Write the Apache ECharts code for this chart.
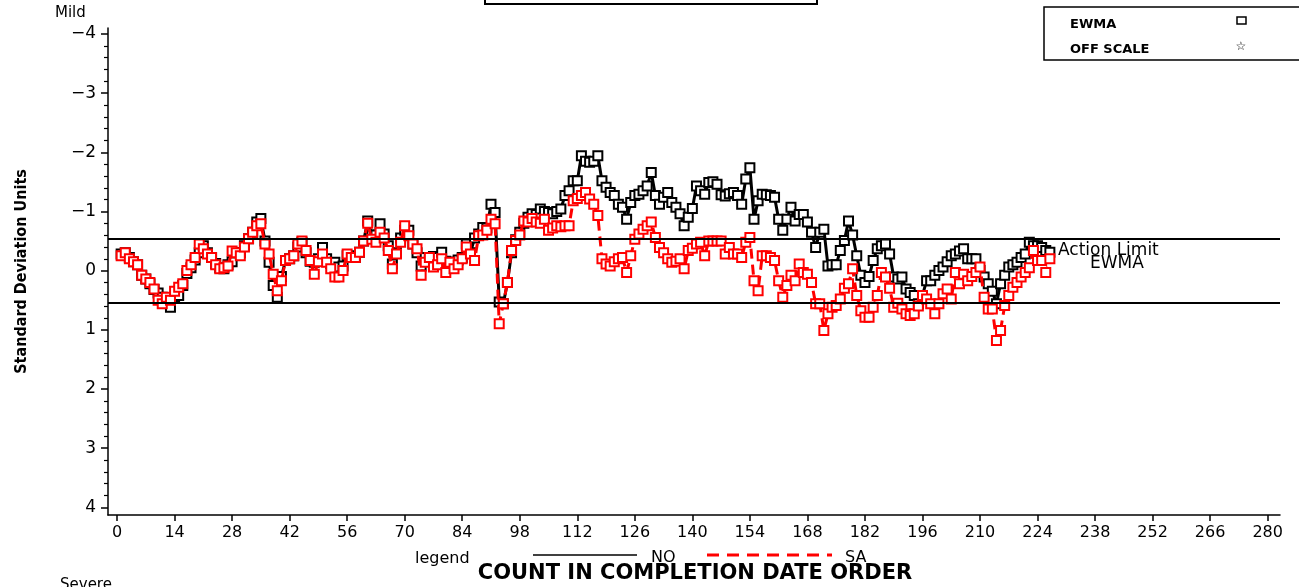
<!DOCTYPE html>
<html><head><meta charset="utf-8">
<script src="https://cdn.jsdelivr.net/npm/echarts@6/dist/echarts.min.js"></script>
<style>html,body{margin:0;padding:0;background:#fff}#c{width:1299px;height:587px}</style>
</head><body><div id="c"></div>
<script>
// EWMA values (standard deviation units), one per count in completion date order
const noValues = [
-0.28,-0.30,-0.22,-0.15,-0.10,0.08,0.14,0.22,0.32,0.38,
0.45,0.50,0.62,0.45,0.42,0.25,0.05,-0.05,-0.18,-0.30,
-0.42,-0.30,-0.22,-0.12,-0.05,-0.03,-0.10,-0.15,-0.30,-0.30,
-0.42,-0.54,-0.65,-0.82,-0.88,-0.50,-0.14,0.25,0.45,0.10,
-0.17,-0.20,-0.25,-0.40,-0.48,-0.30,-0.16,-0.14,-0.20,-0.39,
-0.20,-0.12,-0.14,-0.06,-0.08,-0.25,-0.25,-0.22,-0.31,-0.50,
-0.84,-0.60,-0.60,-0.79,-0.62,-0.42,-0.11,-0.30,-0.55,-0.68,
-0.68,-0.45,-0.30,-0.08,-0.22,-0.20,-0.24,-0.22,-0.31,-0.16,
-0.14,-0.14,-0.18,-0.22,-0.45,-0.30,-0.55,-0.62,-0.73,-0.72,
-1.12,-0.98,0.53,0.56,0.20,-0.30,-0.52,-0.65,-0.80,-0.90,
-0.96,-0.95,-1.04,-1.00,-0.98,-0.96,-1.00,-1.04,-1.27,-1.35,
-1.52,-1.52,-1.94,-1.85,-1.83,-1.85,-1.94,-1.52,-1.41,-1.32,
-1.27,-1.12,-1.07,-0.87,-1.15,-1.27,-1.29,-1.35,-1.43,-1.66,
-1.27,-1.12,-1.24,-1.32,-1.15,-1.07,-0.96,-0.76,-0.90,-1.05,
-1.43,-1.35,-1.29,-1.49,-1.50,-1.46,-1.28,-1.26,-1.30,-1.32,
-1.27,-1.12,-1.55,-1.74,-0.87,-1.18,-1.29,-1.28,-1.27,-1.24,
-0.87,-0.68,-0.87,-1.07,-0.84,-0.95,-0.95,-0.82,-0.65,-0.39,
-0.65,-0.70,-0.08,-0.10,-0.10,-0.34,-0.51,-0.84,-0.60,-0.25,
0.08,0.20,0.10,-0.17,-0.37,-0.42,-0.45,-0.28,0.11,0.14,
0.11,0.31,0.37,0.42,0.56,0.42,0.17,0.17,0.08,0.00,
-0.06,-0.15,-0.25,-0.28,-0.33,-0.37,-0.20,-0.20,-0.20,0.00,
0.11,0.22,0.35,0.56,0.22,0.08,-0.06,-0.10,-0.14,-0.22,
-0.28,-0.48,-0.42,-0.42,-0.39,-0.34,-0.31
];
const saValues = [
-0.25,-0.30,-0.20,-0.15,-0.10,0.08,0.14,0.20,0.31,0.50,
0.56,0.45,0.50,0.35,0.28,0.22,0.00,-0.10,-0.22,-0.45,
-0.37,-0.28,-0.22,-0.10,-0.03,-0.05,-0.08,-0.33,-0.30,-0.25,
-0.40,-0.54,-0.65,-0.76,-0.79,-0.45,-0.28,0.06,0.34,0.17,
-0.17,-0.20,-0.25,-0.45,-0.50,-0.34,-0.17,0.06,-0.15,-0.28,
-0.14,-0.03,0.11,0.11,0.00,-0.28,-0.22,-0.22,-0.31,-0.50,
-0.80,-0.53,-0.48,-0.65,-0.55,-0.34,-0.03,-0.28,-0.48,-0.76,
-0.59,-0.45,-0.37,0.08,-0.14,-0.22,-0.06,-0.10,-0.20,0.03,
-0.14,-0.03,-0.10,-0.20,-0.40,-0.28,-0.17,-0.59,-0.60,-0.68,
-0.87,-0.79,0.90,0.56,0.20,-0.34,-0.51,-0.60,-0.84,-0.82,
-0.88,-0.82,-0.80,-0.87,-0.68,-0.72,-0.76,-0.74,-0.76,-0.76,
-1.18,-1.22,-1.27,-1.32,-1.21,-1.12,-0.93,-0.20,-0.11,-0.08,
-0.15,-0.20,-0.22,0.03,-0.25,-0.53,-0.62,-0.70,-0.76,-0.82,
-0.56,-0.39,-0.30,-0.20,-0.14,-0.16,-0.20,-0.03,-0.34,-0.38,
-0.45,-0.48,-0.25,-0.50,-0.50,-0.50,-0.50,-0.28,-0.39,-0.28,
-0.28,-0.22,-0.48,-0.56,0.17,0.34,-0.25,-0.25,-0.22,-0.17,
0.17,0.45,0.25,0.08,0.17,-0.11,0.03,0.06,0.20,0.56,
0.56,1.01,0.73,0.62,0.59,0.48,0.30,0.22,-0.03,0.42,
0.68,0.79,0.79,0.62,0.42,0.03,0.11,0.30,0.62,0.55,
0.65,0.73,0.76,0.73,0.60,0.42,0.48,0.56,0.73,0.56,
0.39,0.31,0.48,0.03,0.22,0.06,0.17,0.10,0.03,-0.06,
0.45,0.65,0.65,1.18,1.01,0.59,0.42,0.28,0.20,0.11,
0.03,-0.05,-0.34,-0.17,-0.17,0.03,-0.20
];
const xTickLabels = [0,14,28,42,56,70,84,98,112,126,140,154,168,182,196,210,224,238,252,266,280];
const yTickLabels = [-4,-3,-2,-1,0,1,2,3,4];
const actionLimits = [-0.54, 0.54];

const FONT = 'DejaVu Sans';
const counts = noValues.map((_, i) => i + 1);
const noData = counts.map((c, i) => [c, noValues[i]]);
const saData = counts.map((c, i) => [c, saValues[i]]);
const yMinor = [];
for (let k = 0; k < yTickLabels.length - 1; k++) {
  for (let m = 1; m < 5; m++) yMinor.push(+(yTickLabels[k] + m * 0.2).toFixed(2));
}
const minusFmt = v => (v < 0 ? '\u2212' + Math.abs(v) : String(v));

const chart = echarts.init(document.getElementById('c'));
chart.setOption({
  animation: false,
  backgroundColor: '#fff',
  grid: { left: 108, right: 19, top: 28, bottom: 72, containLabel: false },
  xAxis: {
    type: 'value', min: -2.2, max: 283,
    axisLine: { onZero: false, lineStyle: { color: '#000', width: 1.5 } },
    axisTick: { customValues: xTickLabels, length: 6, lineStyle: { color: '#000', width: 1.5 } },
    axisLabel: { customValues: xTickLabels, color: '#000', fontSize: 16, fontFamily: FONT, margin: 10 },
    splitLine: { show: false }
  },
  yAxis: [{
    type: 'value', inverse: true, min: -4.1, max: 4.13, position: 'left',
    axisLine: { show: true, onZero: false, lineStyle: { color: '#000', width: 1.5 } },
    axisTick: { customValues: yTickLabels, length: 7, lineStyle: { color: '#000', width: 1.5 } },
    axisLabel: { customValues: yTickLabels, formatter: minusFmt, color: '#000', fontSize: 17, fontFamily: FONT, margin: 12 },
    splitLine: { show: false },
    name: 'Standard Deviation Units', nameLocation: 'middle', nameGap: 78, nameRotate: 90,
    nameTextStyle: { color: '#000', fontSize: 16, fontWeight: 'bold', fontFamily: "'Liberation Sans Narrow','DejaVu Sans Condensed'" }
  }, {
    type: 'value', inverse: true, min: -4.1, max: 4.13, position: 'left',
    axisLine: { show: false, onZero: false },
    axisTick: { customValues: yMinor, length: 4, lineStyle: { color: '#000', width: 1.2 } },
    axisLabel: { show: false },
    splitLine: { show: false }
  }],
  series: [{
    name: 'NO', type: 'line', data: noData, yAxisIndex: 0,
    symbol: 'rect', symbolSize: 9,
    itemStyle: { color: '#fff', borderColor: '#000', borderWidth: 2 },
    lineStyle: { color: '#000', width: 3 },
    emphasis: { disabled: true }, z: 3,
    markLine: {
      silent: true, symbol: 'none', label: { show: false },
      lineStyle: { color: '#000', width: 2, type: 'solid' },
      data: actionLimits.map(v => ({ yAxis: v }))
    }
  }, {
    name: 'SA', type: 'line', data: saData, yAxisIndex: 0,
    symbol: 'rect', symbolSize: 9,
    itemStyle: { color: '#fff', borderColor: '#ff0000', borderWidth: 2 },
    lineStyle: { color: '#ff0000', width: 3, type: [10, 6] },
    emphasis: { disabled: true }, z: 4
  }],
  graphic: [
    { type: 'rect', shape: { x: 485, y: -10, width: 332, height: 14 }, style: { fill: 'none', stroke: '#000', lineWidth: 2 } },
    { type: 'rect', shape: { x: 1044, y: 7, width: 270, height: 53 }, style: { fill: '#fff', stroke: '#000', lineWidth: 1.5 } },
    { type: 'text', x: 1070, y: 25, style: { text: 'EWMA', fill: '#000', font: '600 13px ' + FONT, verticalAlign: 'middle' } },
    { type: 'text', x: 1070, y: 50, style: { text: 'OFF SCALE', fill: '#000', font: '600 13px ' + FONT, verticalAlign: 'middle' } },
    { type: 'rect', shape: { x: 1237, y: 17, width: 9, height: 7 }, style: { fill: 'none', stroke: '#000', lineWidth: 1.5 } },
    { type: 'text', x: 1241, y: 47, style: { text: '\u2606', fill: '#000', font: '12px ' + FONT, align: 'center', verticalAlign: 'middle' } },
    { type: 'text', x: 55, y: 13, style: { text: 'Mild', fill: '#000', font: '15px ' + FONT, verticalAlign: 'middle' } },
    { type: 'text', x: 60, y: 578, style: { text: 'Severe', fill: '#000', font: '15px ' + FONT, verticalAlign: 'top' } },
    { type: 'text', x: 1058, y: 251, style: { text: 'Action Limit', fill: '#000', font: '17px ' + FONT, verticalAlign: 'middle' } },
    { type: 'text', x: 1090, y: 264, style: { text: 'EWMA', fill: '#000', font: '17px ' + FONT, verticalAlign: 'middle' } },
    { type: 'text', x: 415, y: 559, style: { text: 'legend', fill: '#000', font: '16px ' + FONT, verticalAlign: 'middle' } },
    { type: 'line', shape: { x1: 533, y1: 555, x2: 637, y2: 555 }, style: { stroke: '#000', lineWidth: 1.5 } },
    { type: 'text', x: 651, y: 558, style: { text: 'NO', fill: '#000', font: '16px ' + FONT, verticalAlign: 'middle' } },
    { type: 'line', shape: { x1: 707, y1: 555, x2: 832, y2: 555 }, style: { stroke: '#ff0000', lineWidth: 3, lineDash: [12, 8] } },
    { type: 'text', x: 845, y: 558, style: { text: 'SA', fill: '#000', font: '16px ' + FONT, verticalAlign: 'middle' } },
    { type: 'text', x: 695, y: 574, style: { text: 'COUNT IN COMPLETION DATE ORDER', fill: '#000', font: '900 21px ' + FONT, align: 'center', verticalAlign: 'middle' } }
  ]
});
</script></body></html>
